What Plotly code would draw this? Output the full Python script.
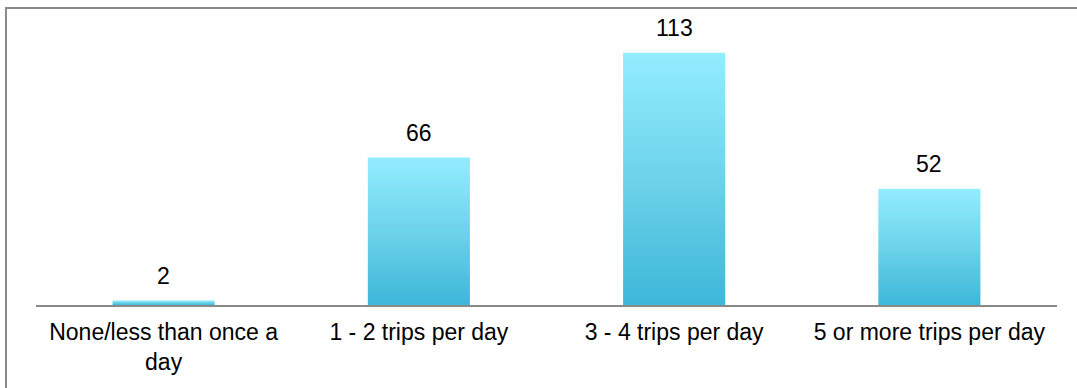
import plotly.graph_objects as go

categories = ["None/less than once a<br>day", "1 - 2 trips per day", "3 - 4 trips per day", "5 or more trips per day"]
values = [2, 66, 113, 52]

BAR_HALF = 0.2
FONT = "Liberation Sans, Arial, Helvetica, sans-serif"
FSIZE = 23

fig = go.Figure()
for i, v in enumerate(values):
    fig.add_trace(go.Scatter(
        x=[i - BAR_HALF, i + BAR_HALF, i + BAR_HALF, i - BAR_HALF, i - BAR_HALF],
        y=[0, 0, v, v, 0],
        mode="lines",
        line=dict(width=0),
        fill="toself",
        fillgradient=dict(type="vertical",
                          colorscale=[[0, "#3db7d9"], [0.5, "#6dd3ea"], [1, "#92edfe"]]),
        hoverinfo="skip",
        showlegend=False,
    ))

for i, v in enumerate(values):
    fig.add_annotation(x=i, y=v, text=str(v), showarrow=False, yanchor="bottom",
                       yshift=10, font=dict(family=FONT, size=FSIZE, color="#000000"))

fig.add_shape(type="rect", xref="paper", yref="paper",
              x0=-0.0294, x1=1.2, y0=-0.5, y1=1.108,
              line=dict(color="#8a8a8a", width=2), layer="below")

fig.update_layout(
    width=1077, height=388,
    margin=dict(l=36, r=20, t=37, b=83),
    paper_bgcolor="white", plot_bgcolor="white",
    font=dict(family=FONT, size=FSIZE, color="#000000"),
    xaxis=dict(range=[-0.5, 3.5], tickmode="array", tickvals=list(range(len(categories))),
               ticktext=categories, showgrid=False, zeroline=False,
               showline=True, linecolor="#8a8a8a", linewidth=2, ticks="",
               ticklabelstandoff=5, fixedrange=True),
    yaxis=dict(range=[0, 120], showgrid=False, zeroline=False, showline=False,
               showticklabels=False, fixedrange=True),
)

fig.write_html("out.html", config={"displayModeBar": False},
               post_script="document.body.style.margin='0';document.body.style.overflow='hidden';")
